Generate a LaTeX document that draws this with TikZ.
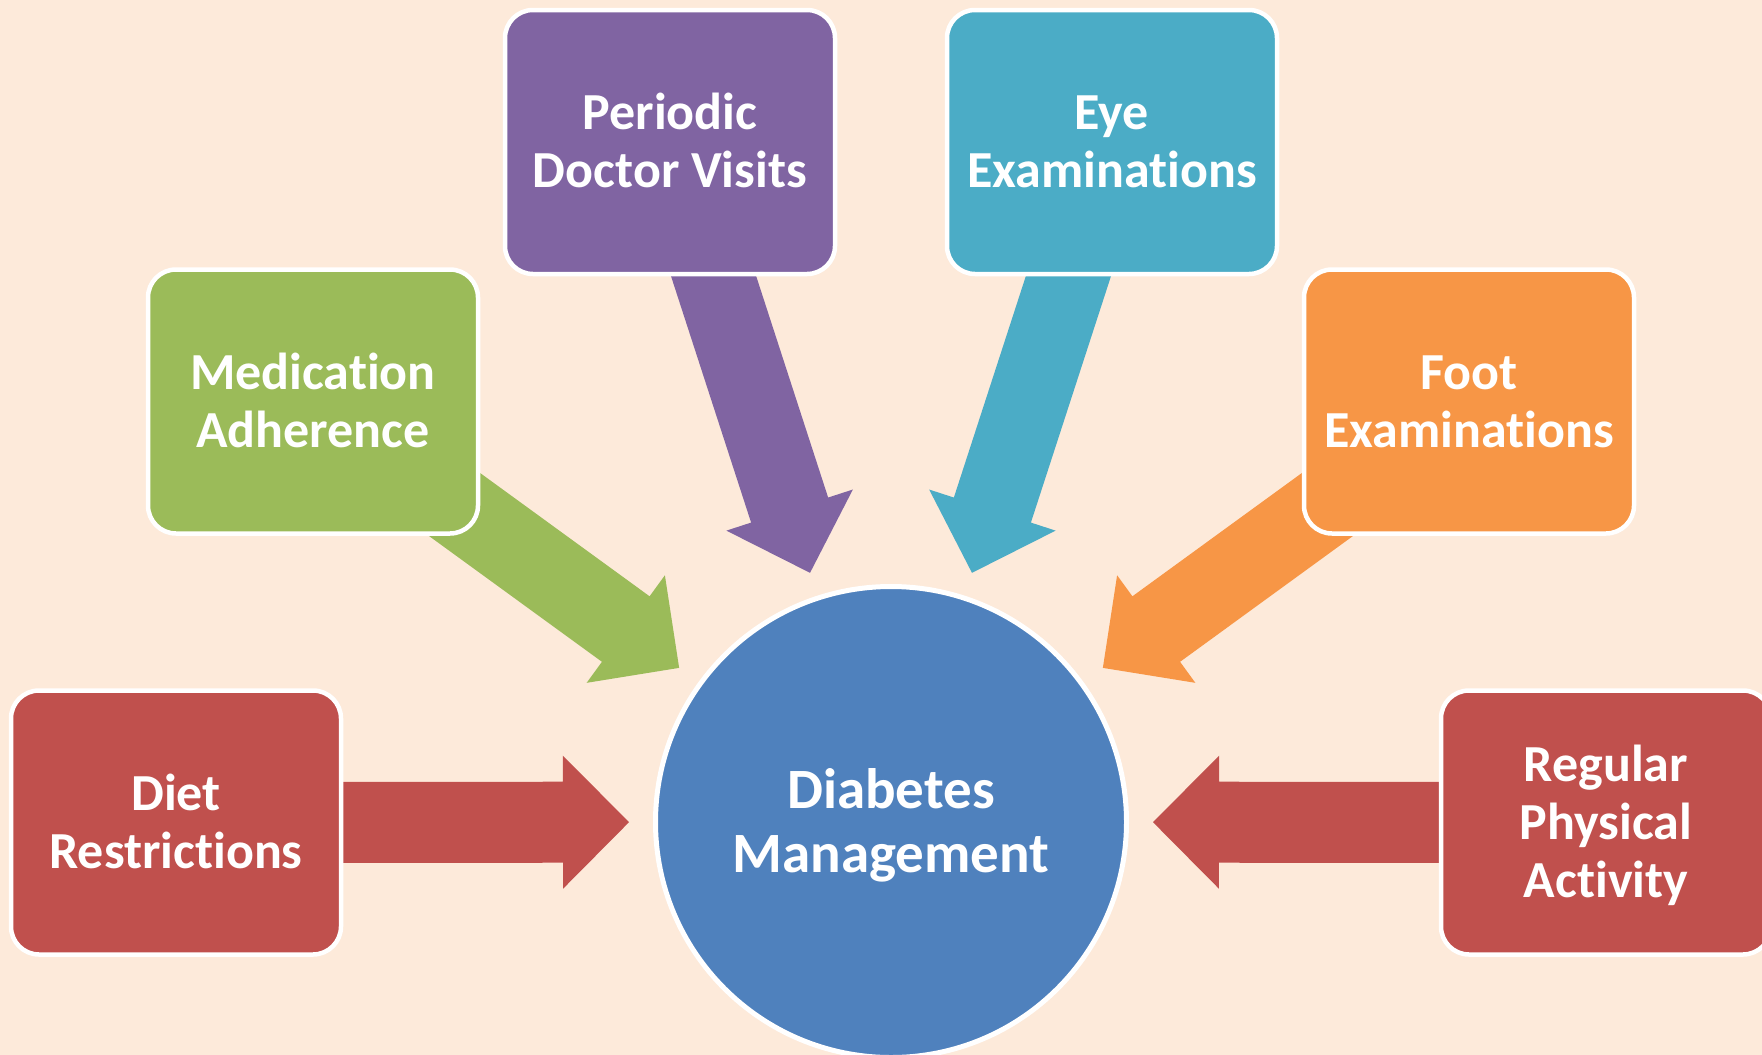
\documentclass[tikz,border=0pt]{standalone}
\usepackage{fontspec}
\setmainfont{Carlito}[Ligatures=NoCommon]
\usetikzlibrary{calc}

\definecolor{bgpeach}{HTML}{FDEADA}
\definecolor{hubblue}{HTML}{4F81BD}
\definecolor{plum}{HTML}{8064A2}
\definecolor{aqua}{HTML}{4BACC6}
\definecolor{leaf}{HTML}{9BBB59}
\definecolor{amber}{HTML}{F79646}
\definecolor{brick}{HTML}{C0504D}

\pgfdeclarelayer{back}
\pgfsetlayers{back,main}

% Block arrow from the centre of a card towards the hub, stopping short of it
\newcommand{\feedarrow}[2]{%
  \path ($(hub.center)!262pt!(#1.center)$) coordinate (tip-#1)
        ($(tip-#1)!66pt!(#1.center)$) coordinate (neck-#1);
  \fill[#2]
    ($(#1.center)!40.5pt!90:(tip-#1)$) --
    ($(neck-#1)!40.5pt!90:(tip-#1)$) --
    ($(neck-#1)!66.5pt!90:(tip-#1)$) --
    (tip-#1) --
    ($(neck-#1)!66.5pt!-90:(tip-#1)$) --
    ($(neck-#1)!40.5pt!-90:(tip-#1)$) --
    ($(#1.center)!40.5pt!-90:(tip-#1)$) -- cycle;}

\begin{document}
\begin{tikzpicture}[x=1pt,y=-1pt,
  card/.style={rectangle, rounded corners=28pt, draw=white, line width=4.5pt,
    minimum width=330pt, minimum height=264pt, inner sep=0pt,
    text=white, align=center,
    font=\fontsize{52}{58}\selectfont\bfseries,
    text height=91pt, text depth=0pt},
  hub/.style={circle, draw=white, line width=5pt, minimum size=471pt,
    inner sep=0pt, fill=hubblue, text=white, align=center,
    font=\fontsize{57}{64}\selectfont\bfseries,
    text height=101pt, text depth=0pt}]

\useasboundingbox (0,0) rectangle (1762,1055);

% outer cards
\node[card, fill=plum]  (doctor)   at (670,142)    {Periodic\\Doctor Visits};
\node[card, fill=aqua]  (eye)      at (1112,142)   {Eye\\Examinations};
\node[card, fill=leaf]  (meds)     at (313,401.5)  {Medication\\Adherence};
\node[card, fill=amber] (foot)     at (1469,401.5) {Foot\\Examinations};
\node[card, fill=brick] (diet)     at (176,822.5)  {Diet\\Restrictions};
\node[card, fill=brick, text height=149pt] (activity) at (1606,822.5)
  {Regular\\Physical\\Activity};

% central goal
\node[hub] (hub) at (891,822) {Diabetes\\Management};

% background and arrows behind the cards
\begin{pgfonlayer}{back}
  \fill[bgpeach] (0,0) rectangle (1762,1055);
  \feedarrow{doctor}{plum}
  \feedarrow{eye}{aqua}
  \feedarrow{meds}{leaf}
  \feedarrow{foot}{amber}
  \feedarrow{diet}{brick}
  \feedarrow{activity}{brick}
\end{pgfonlayer}
\end{tikzpicture}
\end{document}
